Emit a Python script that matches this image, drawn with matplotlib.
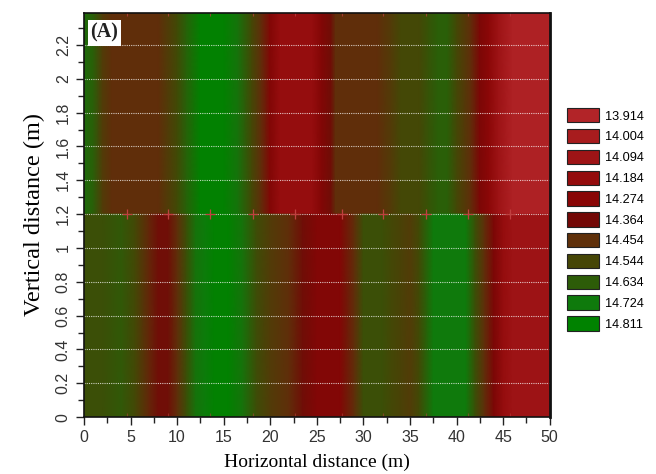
import numpy as np
import matplotlib
matplotlib.use("Agg")
import matplotlib.pyplot as plt
from matplotlib.colors import LinearSegmentedColormap, Normalize
from matplotlib.patches import Patch

# legend levels and colours
levels = [13.914, 14.004, 14.094, 14.184, 14.274, 14.364, 14.454, 14.544, 14.634, 14.724, 14.811]
level_labels = ["13.914", "14.004", "14.094", "14.184", "14.274", "14.364",
                "14.454", "14.544", "14.634", "14.724", "14.811"]
level_colors = ["#b22428", "#a81c1e", "#9e1416", "#940c0d", "#890606", "#730806",
                "#5f300a", "#464606", "#2d5c08", "#0f7a0c", "#008200"]

# upper layer profile (1.2 m to top)
x_top = [0, 1, 2, 3, 8, 10, 11, 12.5, 15, 16.5, 18, 19, 20, 21, 24.5, 25.5, 26.5, 27,
         31.5, 33, 34, 36, 37, 38, 39, 40, 41.5, 42.5, 43.5, 44.5, 46, 50]
v_top = [14.68, 14.64, 14.5, 14.45, 14.45, 14.56, 14.65, 14.8, 14.8, 14.7, 14.55, 14.45,
         14.3, 14.17, 14.17, 14.3, 14.38, 14.45, 14.45, 14.5, 14.55, 14.55, 14.6, 14.64,
         14.64, 14.55, 14.45, 14.33, 14.25, 14.1, 13.95, 13.95]

# lower layer profile (0 to 1.2 m)
x_bot = [0, 2, 4, 5.5, 7, 8, 9, 10, 11, 12, 13, 14, 15.5, 17, 18.5, 20, 22, 23.5, 25,
         27.5, 29, 30, 32, 33, 34, 35, 36, 37.5, 41, 42, 43, 44, 45, 46, 50]
v_bot = [14.58, 14.58, 14.62, 14.55, 14.43, 14.38, 14.38, 14.45, 14.58, 14.7, 14.74, 14.8,
         14.8, 14.7, 14.57, 14.5, 14.45, 14.38, 14.3, 14.3, 14.45, 14.58, 14.58, 14.55,
         14.53, 14.5, 14.56, 14.72, 14.72, 14.58, 14.45, 14.33, 14.18, 14.1, 14.1]

# electrode marks on the interface
marker_x = [4.6, 9.05, 13.55, 18.15, 22.65, 27.65, 32.1, 36.75, 41.2, 45.7]

y_split = 1.2
y_top = 2.39

lo, hi = levels[0], levels[-1]
cmap = LinearSegmentedColormap.from_list(
    "res", [((v - lo) / (hi - lo), c) for v, c in zip(levels, level_colors)])
norm = Normalize(vmin=lo, vmax=hi)

fig = plt.figure(figsize=(6.56, 4.74), dpi=100)
ax = fig.add_axes([0.128, 0.12, 0.71, 0.853])

for xs, vs, y0, y1 in [(x_top, v_top, y_split, y_top), (x_bot, v_bot, 0, y_split)]:
    X = np.array([xs, xs])
    Y = np.array([[y0] * len(xs), [y1] * len(xs)])
    C = np.array([vs, vs])
    ax.pcolormesh(X, Y, C, cmap=cmap, norm=norm, shading="gouraud")

for gy in np.arange(0.2, 2.3, 0.2):
    ax.axhline(gy, color="white", lw=0.8, ls=(0, (1, 1)), alpha=0.75)

ax.plot(marker_x, [y_split] * len(marker_x), "+", color="#c04040", ms=7, mew=0.9)
ax.plot(marker_x, [y_top - 0.01] * len(marker_x), "|", color="#c04040", ms=3, mew=0.8, alpha=0.7)
ax.plot(marker_x, [0.01] * len(marker_x), "|", color="#c04040", ms=3, mew=0.8, alpha=0.5)

ax.set_xlim(0, 50)
ax.set_ylim(0, y_top)
ax.set_xticks(np.arange(0, 51, 5))
ax.set_xticks(np.arange(0, 50.1, 2.5), minor=True)
ax.set_yticks(np.round(np.arange(0, 2.21, 0.2), 1))
ax.set_yticks(np.arange(0, 2.35, 0.1), minor=True)
ax.set_yticklabels(["0", "0.2", "0.4", "0.6", "0.8", "1", "1.2", "1.4", "1.6", "1.8", "2", "2.2"],
                   rotation=90, va="center")
ax.tick_params(which="both", direction="out", colors="#222222", labelcolor="#333333",
               labelsize=11.5)
ax.tick_params(which="major", length=6, width=1)
ax.tick_params(which="minor", length=4, width=1)
for lab in ax.get_xticklabels() + ax.get_yticklabels():
    lab.set_family("Liberation Sans")
for s in ax.spines.values():
    s.set_color("#111111")
    s.set_linewidth(1.2)
ax.spines["right"].set_linewidth(2)

ax.set_xlabel("Horizontal distance (m)", family="Liberation Serif", fontsize=14, labelpad=6)
ax.set_ylabel("Vertical distance (m)", family="Liberation Serif", fontsize=17.5, labelpad=8)

ax.text(0.014, 0.975, "(A)", transform=ax.transAxes, ha="left", va="top",
        family="Liberation Serif", fontweight="bold", fontsize=14.5, color="#222222",
        bbox=dict(facecolor="white", edgecolor="none", pad=2))

handles = [Patch(facecolor=c, edgecolor="#222222", lw=0.8) for c in level_colors]
fig.legend(handles, level_labels, loc="upper left", bbox_to_anchor=(0.864, 0.772),
           frameon=False, handlelength=2.5, handleheight=1.35,
           labelspacing=0.5, handletextpad=0.5, borderaxespad=0, borderpad=0,
           prop={"family": "Liberation Sans", "size": 9.2})

fig.savefig("out.png", dpi=100)
